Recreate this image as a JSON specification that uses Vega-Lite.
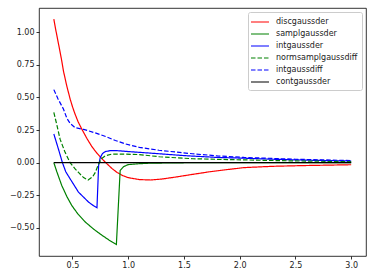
{
  "$schema": "https://vega.github.io/schema/vega-lite/v6.json",
  "width": 327,
  "height": 248,
  "autosize": {"type": "none"},
  "padding": {"left": 39, "top": 8, "right": 8, "bottom": 24},
  "background": "white",
  "config": {
    "view": {"stroke": "#000", "strokeWidth": 0.8},
    "font": "DejaVu Sans",
    "axis": {"grid": false, "domain": false, "tickColor": "#000", "tickSize": 3, "tickWidth": 0.8, "labelFont": "DejaVu Sans", "labelFontSize": 8, "labelColor": "#222", "labelPadding": 2, "title": null},
    "legend": {"title": null, "orient": "top-right", "offset": 4, "symbolType": "M-1.4,0H2.2", "symbolSize": 100, "symbolStrokeWidth": 1.2,
        "labelFont": "DejaVu Sans", "labelFontSize": 8, "labelColor": "#222", "labelOffset": 12, "rowPadding": 2, "padding": 4,
        "strokeColor": "#cccccc", "fillColor": "white", "cornerRadius": 2}
  },
  "datasets": {
    "curves": [
      {"s": "discgaussder", "x": 0.333, "y": 1.10},
      {"s": "discgaussder", "x": 0.35, "y": 1.02},
      {"s": "discgaussder", "x": 0.374, "y": 0.915},
      {"s": "discgaussder", "x": 0.40, "y": 0.80},
      {"s": "discgaussder", "x": 0.42, "y": 0.70},
      {"s": "discgaussder", "x": 0.45, "y": 0.585},
      {"s": "discgaussder", "x": 0.48, "y": 0.486},
      {"s": "discgaussder", "x": 0.50, "y": 0.43},
      {"s": "discgaussder", "x": 0.52, "y": 0.38},
      {"s": "discgaussder", "x": 0.55, "y": 0.315},
      {"s": "discgaussder", "x": 0.584, "y": 0.257},
      {"s": "discgaussder", "x": 0.63, "y": 0.185},
      {"s": "discgaussder", "x": 0.675, "y": 0.122},
      {"s": "discgaussder", "x": 0.72, "y": 0.072},
      {"s": "discgaussder", "x": 0.75, "y": 0.043},
      {"s": "discgaussder", "x": 0.795, "y": 0.003},
      {"s": "discgaussder", "x": 0.856, "y": -0.046},
      {"s": "discgaussder", "x": 0.9, "y": -0.075},
      {"s": "discgaussder", "x": 0.946, "y": -0.098},
      {"s": "discgaussder", "x": 1.0, "y": -0.115},
      {"s": "discgaussder", "x": 1.1, "y": -0.13},
      {"s": "discgaussder", "x": 1.2, "y": -0.133},
      {"s": "discgaussder", "x": 1.3, "y": -0.126},
      {"s": "discgaussder", "x": 1.43, "y": -0.11},
      {"s": "discgaussder", "x": 1.6, "y": -0.087},
      {"s": "discgaussder", "x": 1.73, "y": -0.07},
      {"s": "discgaussder", "x": 1.9, "y": -0.052},
      {"s": "discgaussder", "x": 2.04, "y": -0.038},
      {"s": "discgaussder", "x": 2.3, "y": -0.028},
      {"s": "discgaussder", "x": 2.6, "y": -0.022},
      {"s": "discgaussder", "x": 3.0, "y": -0.016},

      {"s": "samplgaussder", "x": 0.333, "y": 0.0},
      {"s": "samplgaussder", "x": 0.36, "y": -0.07},
      {"s": "samplgaussder", "x": 0.404, "y": -0.175},
      {"s": "samplgaussder", "x": 0.45, "y": -0.26},
      {"s": "samplgaussder", "x": 0.495, "y": -0.33},
      {"s": "samplgaussder", "x": 0.55, "y": -0.395},
      {"s": "samplgaussder", "x": 0.615, "y": -0.455},
      {"s": "samplgaussder", "x": 0.69, "y": -0.51},
      {"s": "samplgaussder", "x": 0.765, "y": -0.557},
      {"s": "samplgaussder", "x": 0.83, "y": -0.595},
      {"s": "samplgaussder", "x": 0.894, "y": -0.628},
      {"s": "samplgaussder", "x": 0.928, "y": -0.06},
      {"s": "samplgaussder", "x": 0.96, "y": -0.03},
      {"s": "samplgaussder", "x": 1.0, "y": -0.015},
      {"s": "samplgaussder", "x": 1.1, "y": -0.008},
      {"s": "samplgaussder", "x": 1.2, "y": -0.004},
      {"s": "samplgaussder", "x": 1.5, "y": -0.001},
      {"s": "samplgaussder", "x": 2.0, "y": 0.0},
      {"s": "samplgaussder", "x": 3.0, "y": 0.0},

      {"s": "intgaussder", "x": 0.333, "y": 0.22},
      {"s": "intgaussder", "x": 0.374, "y": 0.105},
      {"s": "intgaussder", "x": 0.41, "y": 0.0},
      {"s": "intgaussder", "x": 0.44, "y": -0.07},
      {"s": "intgaussder", "x": 0.479, "y": -0.124},
      {"s": "intgaussder", "x": 0.554, "y": -0.226},
      {"s": "intgaussder", "x": 0.6, "y": -0.265},
      {"s": "intgaussder", "x": 0.644, "y": -0.302},
      {"s": "intgaussder", "x": 0.68, "y": -0.325},
      {"s": "intgaussder", "x": 0.72, "y": -0.345},
      {"s": "intgaussder", "x": 0.735, "y": -0.02},
      {"s": "intgaussder", "x": 0.75, "y": 0.04},
      {"s": "intgaussder", "x": 0.77, "y": 0.07},
      {"s": "intgaussder", "x": 0.795, "y": 0.085},
      {"s": "intgaussder", "x": 0.84, "y": 0.092},
      {"s": "intgaussder", "x": 0.9, "y": 0.092},
      {"s": "intgaussder", "x": 1.0, "y": 0.085},
      {"s": "intgaussder", "x": 1.1, "y": 0.079},
      {"s": "intgaussder", "x": 1.28, "y": 0.068},
      {"s": "intgaussder", "x": 1.5, "y": 0.054},
      {"s": "intgaussder", "x": 1.8, "y": 0.04},
      {"s": "intgaussder", "x": 2.04, "y": 0.034},
      {"s": "intgaussder", "x": 2.3, "y": 0.026},
      {"s": "intgaussder", "x": 2.6, "y": 0.019},
      {"s": "intgaussder", "x": 3.0, "y": 0.012},

      {"s": "normsamplgaussdiff", "x": 0.333, "y": 0.385},
      {"s": "normsamplgaussdiff", "x": 0.36, "y": 0.29},
      {"s": "normsamplgaussdiff", "x": 0.389, "y": 0.18},
      {"s": "normsamplgaussdiff", "x": 0.434, "y": 0.079},
      {"s": "normsamplgaussdiff", "x": 0.479, "y": 0.0},
      {"s": "normsamplgaussdiff", "x": 0.524, "y": -0.048},
      {"s": "normsamplgaussdiff", "x": 0.554, "y": -0.075},
      {"s": "normsamplgaussdiff", "x": 0.6, "y": -0.115},
      {"s": "normsamplgaussdiff", "x": 0.64, "y": -0.133},
      {"s": "normsamplgaussdiff", "x": 0.68, "y": -0.11},
      {"s": "normsamplgaussdiff", "x": 0.705, "y": -0.075},
      {"s": "normsamplgaussdiff", "x": 0.735, "y": -0.01},
      {"s": "normsamplgaussdiff", "x": 0.76, "y": 0.03},
      {"s": "normsamplgaussdiff", "x": 0.795, "y": 0.053},
      {"s": "normsamplgaussdiff", "x": 0.85, "y": 0.065},
      {"s": "normsamplgaussdiff", "x": 0.95, "y": 0.066},
      {"s": "normsamplgaussdiff", "x": 1.1, "y": 0.062},
      {"s": "normsamplgaussdiff", "x": 1.28, "y": 0.045},
      {"s": "normsamplgaussdiff", "x": 1.58, "y": 0.03},
      {"s": "normsamplgaussdiff", "x": 2.04, "y": 0.021},
      {"s": "normsamplgaussdiff", "x": 2.5, "y": 0.013},
      {"s": "normsamplgaussdiff", "x": 3.0, "y": 0.008},

      {"s": "intgaussdiff", "x": 0.333, "y": 0.56},
      {"s": "intgaussdiff", "x": 0.37, "y": 0.49},
      {"s": "intgaussdiff", "x": 0.42, "y": 0.41},
      {"s": "intgaussdiff", "x": 0.45, "y": 0.34},
      {"s": "intgaussdiff", "x": 0.48, "y": 0.30},
      {"s": "intgaussdiff", "x": 0.524, "y": 0.268},
      {"s": "intgaussdiff", "x": 0.6, "y": 0.255},
      {"s": "intgaussdiff", "x": 0.705, "y": 0.228},
      {"s": "intgaussdiff", "x": 0.8, "y": 0.2},
      {"s": "intgaussdiff", "x": 0.885, "y": 0.17},
      {"s": "intgaussdiff", "x": 0.977, "y": 0.143},
      {"s": "intgaussdiff", "x": 1.1, "y": 0.117},
      {"s": "intgaussdiff", "x": 1.276, "y": 0.095},
      {"s": "intgaussdiff", "x": 1.577, "y": 0.068},
      {"s": "intgaussdiff", "x": 1.8, "y": 0.052},
      {"s": "intgaussdiff", "x": 2.04, "y": 0.04},
      {"s": "intgaussdiff", "x": 2.5, "y": 0.026},
      {"s": "intgaussdiff", "x": 3.0, "y": 0.016},

      {"s": "contgaussder", "x": 0.333, "y": 0.0},
      {"s": "contgaussder", "x": 3.0, "y": 0.0}
    ]
  },
  "data": {"name": "curves"},
  "mark": {"type": "line", "strokeWidth": 1.2, "clip": true},
  "encoding": {
    "x": {"field": "x", "type": "quantitative", "scale": {"domain": [0.2, 3.133], "nice": false, "zero": false},
      "axis": {"values": [0.5, 1.0, 1.5, 2.0, 2.5, 3.0], "format": ".1f"}},
    "y": {"field": "y", "type": "quantitative", "scale": {"domain": [-0.716, 1.186], "nice": false, "zero": false},
      "axis": {"values": [-0.5, -0.25, 0, 0.25, 0.5, 0.75, 1.0], "labelExpr": "replace(format(datum.value, '.2f'), '-', '\u2212')"}},
    "color": {"field": "s", "type": "nominal",
      "scale": {"domain": ["discgaussder", "samplgaussder", "intgaussder", "normsamplgaussdiff", "intgaussdiff", "contgaussder"],
                "range": ["#ff0000", "#008000", "#0000ff", "#008000", "#0000ff", "#000000"]},
      "legend": {"title": null}},
    "strokeDash": {"field": "s", "type": "nominal",
      "scale": {"domain": ["discgaussder", "samplgaussder", "intgaussder", "normsamplgaussdiff", "intgaussdiff", "contgaussder"],
                "range": [[1, 0], [1, 0], [1, 0], [4.5, 2], [4.5, 2], [1, 0]]},
      "legend": {"title": null}}
  }
}
